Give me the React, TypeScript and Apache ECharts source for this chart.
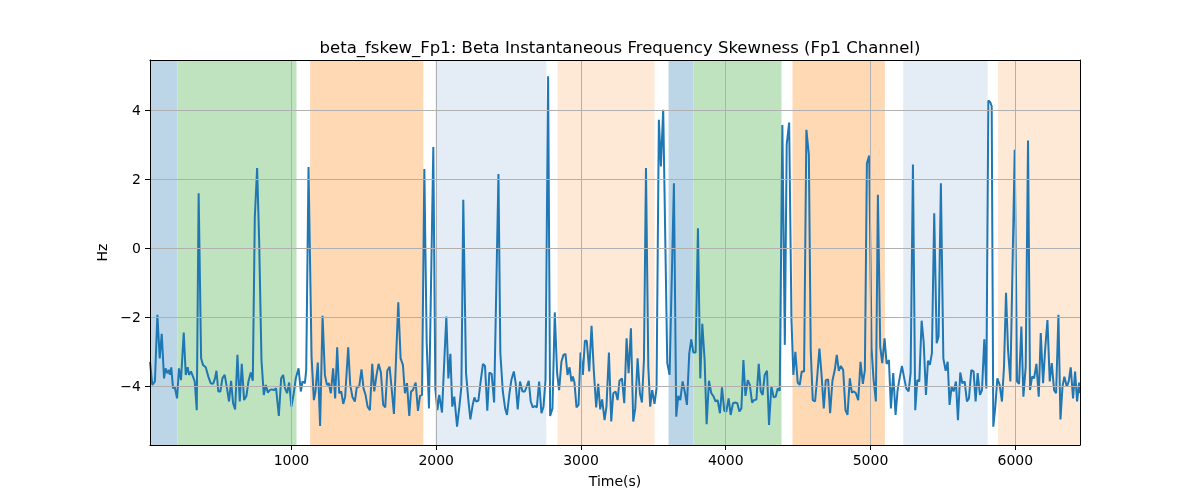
import React, { useEffect, useRef } from 'react';
import * as echarts from 'echarts';

// [time (s), beta instantaneous frequency skewness (Hz)]
const fskewSamples: [number, number][] = [
  [23, -3.29], [39, -3.96], [57, -3.86], [74, -1.93], [90, -3.19], [104, -2.48], [120, -3.77], [131, -3.48],
  [143, -3.62], [154, -3.53], [161, -3.67], [170, -3.45], [182, -4.06], [193, -4.01], [210, -4.35], [223, -3.48],
  [237, -3.82], [256, -2.44], [270, -3.67], [283, -3.45], [293, -3.67], [306, -3.57], [320, -3.72], [332, -3.86],
  [346, -4.69], [359, 1.59], [376, -3.19], [389, -3.38], [408, -3.45], [426, -3.72], [442, -3.91], [459, -3.93],
  [472, -3.77], [482, -3.55], [495, -4.15], [509, -4.15], [523, -3.77], [539, -3.67], [555, -4.06], [569, -4.44],
  [583, -3.84], [597, -4.49], [611, -4.67], [627, -3.09], [643, -4.44], [657, -3.35], [673, -4.4], [689, -4.28],
  [703, -3.86], [719, -3.6], [733, -3.84], [747, 0.9], [763, 2.32], [777, 0.2], [793, -3.24], [809, -4.25],
  [823, -3.96], [837, -4.18], [850, -4.11], [864, -4.09], [878, -4.11], [894, -4.06], [913, -4.86], [929, -3.77],
  [943, -3.67], [956, -4.06], [970, -4.2], [984, -3.89], [1000, -4.59], [1016, -4.2], [1030, -3.77], [1049, -3.48],
  [1065, -4.15], [1076, -3.86], [1093, -3.91], [1102, -3.53], [1118, 2.35],
  [1139, -3.14], [1155, -4.4], [1166, -4.15], [1182, -3.31], [1198, -5.15], [1215, -1.96], [1231, -3.67], [1245, -3.96],
  [1258, -3.91], [1272, -4.2], [1288, -3.48], [1302, -4.35], [1316, -2.87], [1330, -4.2], [1344, -4.15], [1358, -4.51],
  [1371, -4.3], [1392, -2.87], [1406, -3.96], [1422, -4.32], [1438, -4.44], [1452, -4.01], [1468, -4.01], [1484, -3.51],
  [1498, -4.06], [1512, -4.25], [1526, -4.59], [1542, -4.69], [1558, -3.35], [1572, -4.15], [1588, -3.67], [1602, -3.35],
  [1618, -3.6], [1634, -4.54], [1648, -4.61], [1662, -3.55], [1678, -3.43], [1694, -4.15], [1708, -4.8], [1724, -3.04],
  [1738, -1.57], [1754, -3.19], [1770, -3.38], [1784, -4.2], [1798, -3.91], [1814, -4.86], [1826, -4.15], [1839, -4.11],
  [1858, -3.89], [1874, -4.71], [1888, -4.28], [1902, -4.25], [1918, 2.29], [1934, -2.71], [1950, -4.64], [1980, 2.93],
  [1994, -4.06], [2008, -4.69], [2021, -4.25], [2040, -4.76], [2056, -3.24], [2070, -1.98], [2084, -3.77], [2098, -3.06],
  [2111, -4.59], [2125, -4.3], [2144, -5.17], [2160, -4.59], [2174, -4.01], [2187, 1.4],
  [2206, -3.62], [2222, -4.4], [2236, -4.96], [2252, -4.54], [2264, -4.32], [2275, -4.44], [2291, -4.42], [2307, -3.86],
  [2323, -3.35], [2337, -3.41], [2353, -4.71], [2367, -3.6], [2383, -3.64], [2400, -4.47], [2430, 2.15], [2443, -3.04],
  [2460, -4.15], [2476, -4.64], [2489, -4.83], [2506, -4.2], [2519, -3.82], [2536, -3.57], [2549, -3.91], [2563, -4.67],
  [2579, -3.86], [2596, -4.15], [2612, -4.15], [2625, -4.01], [2639, -3.84], [2653, -4.44], [2667, -4.61], [2681, -4.57],
  [2695, -4.61], [2711, -3.86], [2727, -4.78], [2741, -4.59], [2755, -3.82], [2773, 4.98], [2787, -4.86], [2803, -4.64],
  [2819, -1.86], [2835, -3.62], [2849, -4.11], [2865, -3.29], [2879, -3.09], [2893, -3.06], [2907, -3.67], [2921, -3.45],
  [2934, -3.86], [2944, -3.72], [2955, -3.89], [2969, -4.61], [2983, -4.54], [2997, -3.02], [3013, -3.67], [3027, -2.68],
  [3040, -2.68], [3057, -3.57], [3073, -2.25], [3089, -3.57], [3105, -4.61], [3119, -3.93], [3133, -4.67], [3146, -4.38],
  [3163, -4.98], [3176, -4.59], [3193, -3.02], [3209, -5.02], [3223, -4.2], [3239, -4.15], [3253, -4.4], [3266, -3.84],
  [3283, -3.77], [3299, -4.49], [3315, -2.61], [3329, -3.62], [3345, -2.32], [3361, -5.02], [3375, -4.64], [3391, -3.19],
  [3407, -4.2], [3421, -4.47], [3435, -3.24], [3449, 2.32], [3465, -3.43], [3478, -4.59], [3492, -4.11], [3508, -4.51],
  [3522, -4.06], [3538, 3.72], [3552, 2.37], [3568, 4.01], [3596, -3.33], [3612, -3.67], [3642, 1.88], [3658, -4.88],
  [3672, -4.28], [3686, -4.4], [3702, -3.86], [3718, -4.18], [3732, -4.54], [3748, -3.04], [3762, -2.64], [3776, -3.02],
  [3792, -3.02], [3808, 0.58], [3824, -3.77], [3838, -2.19], [3854, -3.24], [3868, -5.1], [3884, -3.84], [3900, -4.2],
  [3914, -4.28], [3930, -4.44], [3944, -4.4], [3960, -4.78], [3974, -4.03], [3990, -4.71], [4004, -4.73], [4020, -4.35],
  [4034, -4.83], [4050, -4.49], [4066, -4.47], [4080, -4.49], [4094, -4.73], [4108, -4.64], [4122, -3.24], [4136, -4.28],
  [4152, -3.82], [4166, -3.96], [4182, -4.47], [4195, -4.4], [4212, -4.38], [4228, -3.35], [4242, -4.15], [4255, -4.25],
  [4269, -3.67], [4285, -3.55], [4299, -5.12], [4315, -4.0], [4331, -4.32],
  [4345, -4.3], [4359, -4.06], [4373, -4.13], [4391, 3.57], [4408, -2.8], [4421, 3.0], [4438, 3.64], [4454, -2.08],
  [4467, -3.67], [4481, -3.0], [4497, -3.89], [4511, -3.96], [4525, -3.57], [4541, -3.57], [4557, 3.43], [4574, 2.71],
  [4587, -2.95], [4601, -4.4], [4617, -4.44], [4631, -3.77], [4647, -2.91], [4661, -3.62], [4677, -4.64], [4691, -3.82],
  [4707, -3.8], [4721, -4.78], [4737, -3.84], [4753, -3.53], [4767, -3.09], [4781, -3.55], [4795, -3.41], [4811, -3.53],
  [4827, -4.69], [4841, -4.83], [4857, -3.77], [4871, -4.18], [4885, -4.15], [4899, -4.2], [4915, -4.4], [4931, -3.29],
  [4947, -3.93], [4961, -3.53], [4975, 2.46], [4991, 2.68], [5007, -2.9], [5021, -3.8], [5037, -4.44], [5051, 1.55],
  [5067, -2.85], [5081, -3.33], [5097, -2.61], [5111, -3.35], [5127, -3.24], [5141, -4.64], [5157, -3.62], [5173, -4.83],
  [5187, -4.11], [5203, -3.72], [5217, -3.41], [5233, -3.77], [5247, -4.06], [5263, -4.15], [5277, -3.62], [5293, 2.42],
  [5309, -4.69], [5323, -3.82], [5337, -3.86], [5353, -2.1], [5367, -2.71], [5383, -4.25], [5397, -3.26],
  [5410, -3.38], [5424, -3.04], [5440, 1.01], [5457, -2.75], [5470, -2.56], [5486, 1.88], [5503, -3.19], [5519, -3.55],
  [5533, -3.29], [5546, -4.54], [5560, -4.01], [5574, -4.15], [5590, -3.86], [5604, -4.98], [5620, -3.6], [5634, -3.91],
  [5650, -3.86], [5666, -4.44], [5680, -4.35], [5696, -3.53], [5712, -3.57], [5726, -4.44], [5740, -3.62], [5756, -4.25],
  [5770, -4.11], [5786, -2.64], [5800, -4.06], [5814, 4.28], [5828, 4.22], [5837, 4.11], [5848, -5.17], [5862, -4.59],
  [5876, -3.77], [5892, -3.96], [5908, -4.44], [5922, -3.43], [5936, -1.29], [5950, -2.95], [5966, -3.86], [5996, 2.85],
  [6012, -3.86], [6026, -3.93], [6042, -2.27], [6056, -4.3], [6072, -3.43], [6088, 3.12], [6102, -4.11], [6116, -3.72],
  [6130, -3.77], [6146, -3.35], [6162, -4.3], [6176, -2.46], [6192, -3.91], [6206, -2.95], [6222, -2.08], [6238, -3.86],
  [6252, -3.33], [6268, -4.11], [6282, -4.2], [6298, -1.93], [6312, -4.96], [6326, -4.01], [6339, -3.72], [6356, -4.01],
  [6369, -3.86], [6383, -3.45], [6399, -4.35], [6413, -3.57], [6427, -4.44], [6441, -3.89], [6447, -4.2],
];

// shaded intervals: [start s, end s, band index]
const bands: [number, number, number][] = [
  [23, 214, 0],
  [214, 1035, 1],
  [1129, 1911, 2],
  [1995, 2761, 3],
  [2838, 3508, 4],
  [3605, 3778, 0],
  [3778, 4385, 1],
  [4461, 5099, 2],
  [5226, 5809, 3],
  [5881, 6447, 4],
];

const xTicks = [1000, 2000, 3000, 4000, 5000, 6000];
const yTicks = [-4, -2, 0, 2, 4];

const bandColors = ['#bcd6e8', '#bfe2bf', '#ffd8b4', '#e4ecf6', '#fee9d6'];
const FONT = 'DejaVu Sans';
const X_MIN = 23;
const X_MAX = 6447;
const Y_MIN = -5.7;
const Y_MAX = 5.45;

const App: React.FC = () => {
  const chartRef = useRef<HTMLDivElement>(null);

  useEffect(() => {
    const chart = echarts.init(chartRef.current!, null, { renderer: 'svg' });

    const fmt = (v: number) => (v < 0 ? '\u2212' + Math.abs(v) : String(v));
    const spine = { show: true, onZero: false, lineStyle: { color: '#000', width: 1 } };

    const option = {
      animation: false,
      title: {
        text: 'beta_fskew_Fp1: Beta Instantaneous Frequency Skewness (Fp1 Channel)',
        left: 615,
        top: 34,
        textAlign: 'center',
        textStyle: { fontFamily: FONT, fontSize: 16.5, fontWeight: 'normal', color: '#000' },
      },
      grid: { left: 150, right: 120, top: 60, bottom: 55 },
      xAxis: [
        {
          type: 'value',
          min: X_MIN,
          max: X_MAX,
          z: 10,
          name: 'Time(s)',
          nameLocation: 'middle',
          nameGap: 29,
          nameTextStyle: { fontFamily: FONT, fontSize: 14, color: '#000' },
          axisLine: spine,
          axisTick: { show: true, customValues: xTicks, length: 5, lineStyle: { color: '#000' } },
          axisLabel: { customValues: xTicks, margin: 8, fontFamily: FONT, fontSize: 14, color: '#000', formatter: (v: number) => String(v) },
          splitLine: { show: false },
        },
        {
          type: 'value',
          position: 'top',
          min: X_MIN,
          max: X_MAX,
          z: 10,
          axisLine: spine,
          axisTick: { show: false },
          axisLabel: { show: false },
          splitLine: { show: false },
        },
      ],
      yAxis: [
        {
          type: 'value',
          min: Y_MIN,
          max: Y_MAX,
          z: 10,
          name: 'Hz',
          nameLocation: 'middle',
          nameGap: 34,
          nameTextStyle: { fontFamily: FONT, fontSize: 14, color: '#000' },
          axisLine: spine,
          axisTick: { show: true, customValues: yTicks, length: 5, lineStyle: { color: '#000' } },
          axisLabel: { customValues: yTicks, margin: 9, fontFamily: FONT, fontSize: 14, color: '#000', formatter: fmt },
          splitLine: { show: false },
        },
        {
          type: 'value',
          position: 'right',
          min: Y_MIN,
          max: Y_MAX,
          z: 10,
          axisLine: spine,
          axisTick: { show: false },
          axisLabel: { show: false },
          splitLine: { show: false },
        },
      ],
      series: [
        {
          name: 'bands',
          type: 'line',
          data: [],
          z: 1,
          silent: true,
          markArea: {
            silent: true,
            data: bands.map(([s, e, k]) => [
              { xAxis: s, itemStyle: { color: bandColors[k], opacity: 1 } },
              { xAxis: e },
            ]),
          },
        },
        {
          name: 'grid',
          type: 'line',
          data: [],
          z: 2,
          silent: true,
          markLine: {
            silent: true,
            symbol: ['none', 'none'],
            label: { show: false },
            lineStyle: { color: '#b0b0b0', width: 1, type: 'solid' },
            data: [...xTicks.map((v) => ({ xAxis: v })), ...yTicks.map((v) => ({ yAxis: v }))],
          },
        },
        {
          name: 'beta_fskew_Fp1',
          type: 'line',
          data: fskewSamples,
          z: 3,
          showSymbol: false,
          lineStyle: { color: '#1f77b4', width: 2 },
          itemStyle: { color: '#1f77b4' },
        },
      ],
    };

    chart.setOption(option);
    const onResize = () => chart.resize();
    window.addEventListener('resize', onResize);

    return () => {
      window.removeEventListener('resize', onResize);
      chart.dispose();
    };
  }, []);

  return <div ref={chartRef} style={{ position: 'fixed', left: 0, top: 0, width: '1200px', height: '500px' }} />;
};

export default App;
